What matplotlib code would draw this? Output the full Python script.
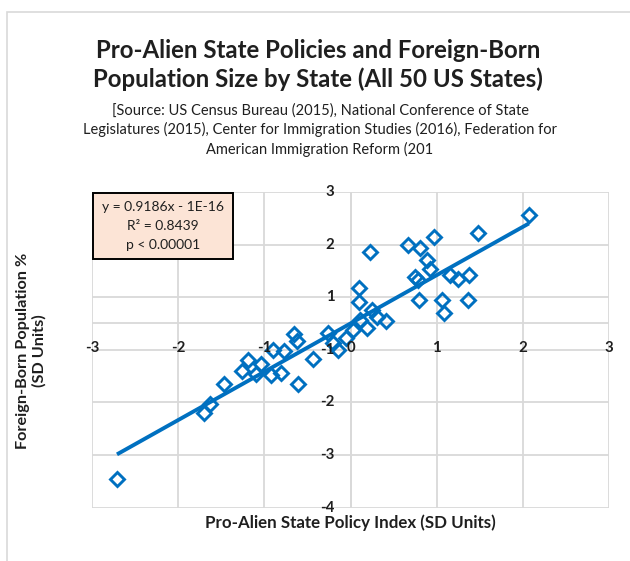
import math
import matplotlib
matplotlib.use("Agg")
import matplotlib.pyplot as plt
from matplotlib.patches import Rectangle
import numpy as np

# Standardized scores for the 50 states (SD units)
policy_index = [
    2.07, 1.48, 0.97, 0.67, 0.81, 0.89, 0.92, 0.75, 0.78, 1.15,
    1.25, 1.38, 0.79, 1.06, 1.08, 1.36, 0.23, 0.10, 0.10, 0.41,
    0.31, 0.25, 0.19, 0.11, 0.03, -0.05, -0.15, -0.26, -0.20, -0.44,
    -0.65, -0.62, -0.77, -0.90, -0.61, -0.81, -0.92, -1.04, -1.19, -1.26,
    -1.47, -1.63, -1.70, -2.71, -1.10,
]
foreign_born = [
    2.06, 1.72, 1.64, 1.49, 1.44, 1.21, 1.04, 0.88, 0.83, 0.93,
    0.85, 0.92, 0.44, 0.45, 0.19, 0.45, 1.35, 0.67, 0.40, 0.05,
    0.12, 0.26, -0.09, 0.07, -0.12, -0.28, -0.50, -0.18, -0.37, -0.67,
    -0.20, -0.33, -0.52, -0.50, -1.15, -0.94, -0.98, -0.78, -0.69, -0.90,
    -1.15, -1.53, -1.70, -2.96, -0.96,
]

# Linear trendline
slope = 0.9186
intercept = -1e-16
r_squared = 0.8439

x_ticks = [-3, -2, -1, 0, 1, 2, 3]
y_ticks = [-3.5, -2.5, -1.5, -0.5, 0.5, 1.5, 2.5]

title_text = ("Pro-Alien State Policies and Foreign-Born\n"
              "Population Size by State (All 50 US States)")
source_text = ("[Source: US Census Bureau (2015), National Conference of State\n"
               "Legislatures (2015), Center for Immigration Studies (2016), Federation for\n"
               "American Immigration Reform (201")
x_label = "Pro-Alien State Policy Index (SD Units)"
y_label = "Foreign-Born Population %\n(SD Units)"

BLUE = "#0070C0"
GRID = "#D9D9D9"
TEXT = "#1F1F1F"
FONT = ["Lato", "DejaVu Sans"]

W, H = 630, 561
fig = plt.figure(figsize=(W / 100, H / 100), dpi=100)
plt.rcParams["font.family"] = FONT


def fx(px):
    return px / W


def fy(py):
    return 1 - py / H


# chart-area border
fig.patches.append(Rectangle((fx(7), fy(H + 20)), 1.2, fy(12) - fy(H + 20),
                             transform=fig.transFigure, fill=False,
                             edgecolor=GRID, linewidth=1.2, zorder=0))

ax = fig.add_axes([fx(92), fy(507.5), fx(609) - fx(92), fy(192) - fy(507.5)])
ax.set_xlim(-3, 3)
ax.set_ylim(-3.5, 2.5)
for s in ax.spines.values():
    s.set_visible(False)
ax.set_xticks(x_ticks)
ax.set_yticks(y_ticks)
ax.tick_params(length=0, labelbottom=False, labelleft=False)
ax.grid(True, color=GRID, linewidth=1.3, zorder=0)
ax.set_axisbelow(True)
# axis lines crossing at the origin
ax.axhline(0, color=GRID, linewidth=1.3, zorder=0.5)
ax.axvline(0, color=GRID, linewidth=1.3, zorder=0.5)


def axis_label(v):
    # whole-number format, halves rounded away from zero
    return str(int(math.copysign(math.floor(abs(v) + 0.5), v)))


for v in x_ticks:
    ax.annotate(str(v), xy=(v, 0), xytext=(0, -17.5), textcoords="offset points",
                ha="center", va="center", fontsize=10.8, fontweight="bold",
                color=TEXT, zorder=4)
for v in y_ticks:
    ax.annotate(axis_label(v), xy=(0, v), xytext=(-11.5, 0), textcoords="offset points",
                ha="right", va="center", fontsize=10.8, fontweight="bold",
                color=TEXT, zorder=4)

# trendline over the data range
xs = np.array([min(policy_index), max(policy_index)])
ax.plot(xs, slope * xs + intercept, color=BLUE, linewidth=2.8, zorder=3,
        solid_capstyle="butt")
ax.plot(policy_index, foreign_born, linestyle="none", marker="D", markersize=7.2,
        markerfacecolor="none", markeredgecolor=BLUE, markeredgewidth=2.1, zorder=3)

# titles
fig.text(fx(318), fy(65), title_text, ha="center", va="center", fontsize=17.3,
         fontweight="bold", color=TEXT, linespacing=1.3)
fig.text(fx(320), fy(130), source_text, ha="center", va="center", fontsize=10.5,
         color=TEXT, linespacing=1.38)
fig.text(fx(350), fy(523), x_label, ha="center", va="center", fontsize=12.2,
         fontweight="bold", color=TEXT)
fig.text(fx(31), fy(351), y_label, ha="center", va="center", rotation=90,
         fontsize=11.7, fontweight="bold", color=TEXT, multialignment="center",
         linespacing=1.15)

# regression statistics box
fig.patches.append(Rectangle((fx(92.7), fy(259.3)), fx(232.7) - fx(92.7),
                             fy(192.7) - fy(259.3), transform=fig.transFigure,
                             facecolor="#FCE4D6", edgecolor="black",
                             linewidth=1.4, zorder=5))
stats_lines = [f"y = {slope}x - 1E-16", f"R\u00b2 = {r_squared}", "p < 0.00001"]
for i, line in enumerate(stats_lines):
    fig.text(fx(162.7), fy(207 + i * 19), line, ha="center", va="center",
             fontsize=10, color=TEXT, zorder=6)

fig.savefig("out.png", dpi=100)
